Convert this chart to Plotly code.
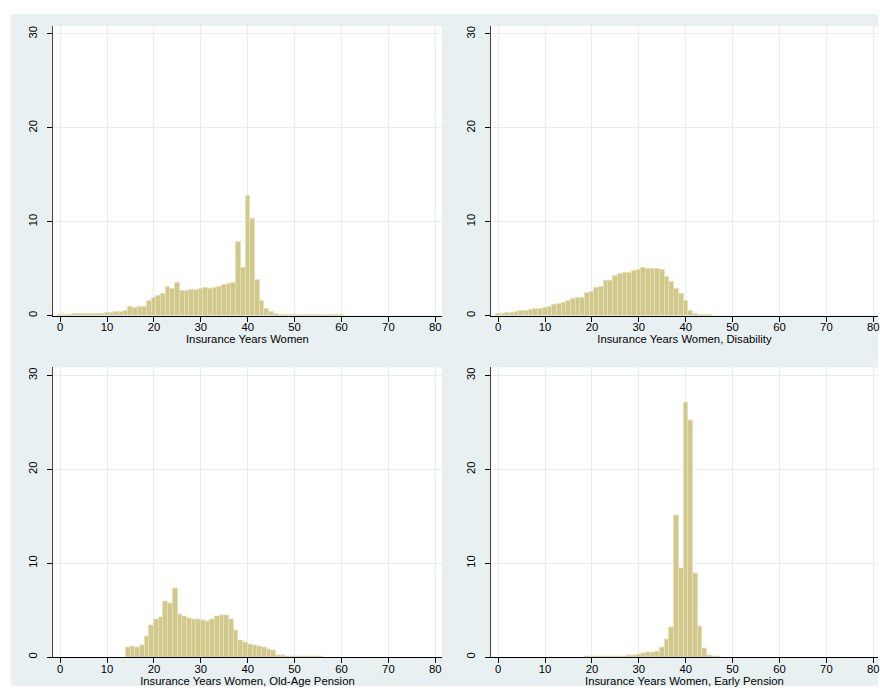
import plotly.graph_objects as go

# Percent of women by insurance years (1-year bins)
years_all = list(range(0, 61))
pct_all = [0.08, 0.10, 0.10, 0.12, 0.13, 0.15, 0.16, 0.17, 0.19, 0.21,
           0.25, 0.30, 0.35, 0.40, 0.45, 0.89, 0.82, 0.92, 0.96, 1.56,
           1.84, 2.09, 2.30, 3.05, 2.84, 3.50, 2.66, 2.66, 2.68, 2.73,
           2.84, 2.90, 2.87, 2.94, 3.05, 3.26, 3.33, 3.50, 7.87, 5.04,
           12.73, 10.28, 3.79, 1.60, 0.71, 0.35, 0.20, 0.10, 0.05, 0.03,
           0.02, 0.02, 0.02, 0.01, 0.01, 0.02, 0.01, 0.01, 0.02, 0.01, 0.01]

years_dis = list(range(0, 46))
pct_dis = [0.18, 0.21, 0.25, 0.25, 0.35, 0.50, 0.53, 0.60, 0.67, 0.71,
           0.78, 0.96, 1.13, 1.28, 1.38, 1.56, 1.74, 1.88, 1.90, 2.38,
           2.52, 2.98, 3.00, 3.65, 3.72, 4.22, 4.43, 4.50, 4.52, 4.75,
           4.90, 5.04, 4.93, 4.93, 4.93, 4.90, 4.15, 3.55, 2.87, 2.27,
           1.56, 0.50, 0.18, 0.07, 0.03, 0.01]

years_old = list(range(14, 56))
pct_old = [1.03, 1.17, 1.06, 1.28, 2.20, 3.40, 3.97, 4.18, 5.92, 5.67,
           7.30, 4.57, 4.33, 4.15, 3.97, 3.97, 3.90, 3.76, 4.04, 4.36,
           4.40, 4.47, 3.97, 2.84, 1.77, 1.52, 1.38, 1.28, 1.13, 0.99,
           0.85, 0.74, 0.21, 0.14, 0.10, 0.07, 0.05, 0.04, 0.04, 0.03,
           0.03, 0.02]

years_early = list(range(19, 48))
pct_early = [0.02, 0.02, 0.02, 0.03, 0.04, 0.05, 0.06, 0.08, 0.11, 0.14,
             0.21, 0.32, 0.39, 0.47, 0.47, 0.57, 0.97, 1.90, 3.10, 15.10,
             9.40, 27.10, 25.20, 8.90, 3.30, 0.90, 0.18, 0.05, 0.02]

x_ticks = [0, 10, 20, 30, 40, 50, 60, 70, 80]
y_ticks = [0, 10, 20, 30]
titles = ["Insurance Years Women",
          "Insurance Years Women, Disability",
          "Insurance Years Women, Old-Age Pension",
          "Insurance Years Women, Early Pension"]

W, H = 880, 693
REGION = "#E9F0F2"
GRID = "#E6EEF1"
BAR_FILL = "#D1C88D"
BAR_LINE = "#E5DFB3"
FONT = "Liberation Sans, Arial, sans-serif"


def px_x(v):
    return v / W


def px_y(v):
    return 1 - v / H


# plot-area pixel boxes: (left, right, top, bottom)
boxes = [(53, 443, 26, 316), (492, 880, 26, 316),
         (53, 443, 368, 658), (492, 880, 368, 658)]

fig = go.Figure()

series = [(years_all, pct_all, None), (years_dis, pct_dis, None),
          (years_old, pct_old, 0), (years_early, pct_early, None)]

for i, (xs, ys, off) in enumerate(series):
    n = "" if i == 0 else str(i + 1)
    kw = dict(width=1)
    if off is not None:
        kw["offset"] = off
    fig.add_trace(go.Bar(
        x=xs, y=ys, xaxis="x" + n, yaxis="y" + n,
        marker=dict(color=BAR_FILL, line=dict(color=BAR_LINE, width=0.8)),
        showlegend=False, hoverinfo="skip", **kw))

shapes = [dict(type="rect", xref="paper", yref="paper", layer="below",
               x0=px_x(11), x1=1, y0=px_y(687), y1=px_y(14),
               fillcolor=REGION, line=dict(width=0))]

layout = dict(width=W, height=H, margin=dict(l=0, r=0, t=0, b=0),
              paper_bgcolor="white", plot_bgcolor="rgba(0,0,0,0)",
              bargap=0, font=dict(family=FONT, color="black", size=11))

for i, (l, r, t, b) in enumerate(boxes):
    n = "" if i == 0 else str(i + 1)
    shapes.append(dict(type="rect", xref="paper", yref="paper", layer="below",
                       x0=px_x(l), x1=px_x(r), y0=px_y(b), y1=px_y(t),
                       fillcolor="white", line=dict(width=0)))
    xmax = -1.55 + (r - l) / 4.7
    layout["xaxis" + n] = dict(
        domain=[px_x(l), px_x(r)], anchor="y" + n, range=[-1.55, xmax],
        tickvals=x_ticks, ticks="outside", ticklen=5, tickwidth=1,
        tickcolor="black", showline=True, linecolor="black", linewidth=1.2,
        showgrid=True, gridcolor=GRID, gridwidth=1, zeroline=False,
        tickfont=dict(size=11.3), ticklabeloverflow="allow",
        ticklabelstandoff=-4,
        title=dict(text=titles[i], font=dict(size=11.3), standoff=0))
    layout["yaxis" + n] = dict(
        domain=[px_y(b), px_y(t)], anchor="x" + n, range=[0, 30.85],
        tickvals=y_ticks, ticks="outside", ticklen=5, tickwidth=1,
        tickcolor="black", showline=True, linecolor="#444444", linewidth=1.4,
        showgrid=True, gridcolor=GRID, gridwidth=1, zeroline=False,
        tickangle=-90, tickfont=dict(size=11.3), ticklabelstandoff=5)

layout["shapes"] = shapes
fig.update_layout(**layout)
fig.write_html("out.html")
